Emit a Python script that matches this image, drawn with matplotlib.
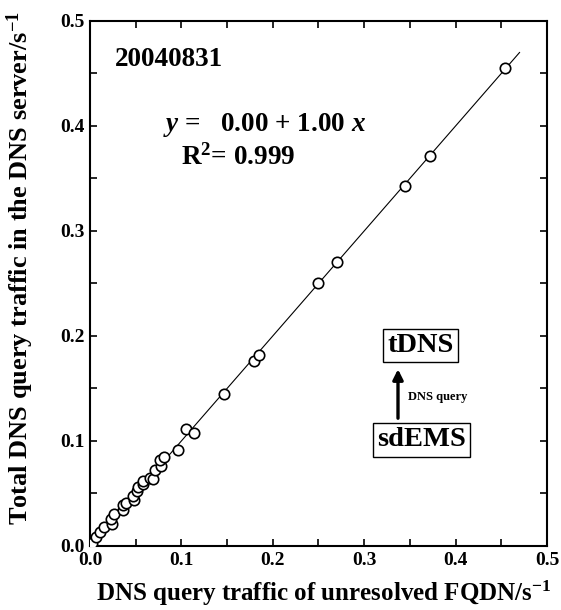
import numpy as np
import matplotlib
matplotlib.use("Agg")
import matplotlib.pyplot as plt
from matplotlib.ticker import MultipleLocator

plt.rcParams['font.family'] = ['Liberation Serif', 'DejaVu Serif']
plt.rcParams['font.weight'] = 'bold'
plt.rcParams['mathtext.fontset'] = 'custom'
plt.rcParams['mathtext.rm'] = 'Liberation Serif:bold'
plt.rcParams['mathtext.it'] = 'Liberation Serif:bold:italic'

# data (unresolved FQDN traffic vs total DNS traffic)
unresolved = [0.002, 0.007, 0.011, 0.015, 0.024, 0.023, 0.026, 0.036, 0.036,
              0.039, 0.048, 0.047, 0.051, 0.052, 0.058, 0.058, 0.066, 0.069,
              0.071, 0.078, 0.077, 0.081, 0.096, 0.105, 0.114, 0.147, 0.179,
              0.185, 0.250, 0.270, 0.345, 0.372, 0.454]
total = [0.003, 0.009, 0.013, 0.018, 0.021, 0.026, 0.030, 0.034, 0.039,
         0.041, 0.044, 0.048, 0.052, 0.056, 0.059, 0.062, 0.065, 0.064,
         0.072, 0.076, 0.082, 0.085, 0.091, 0.111, 0.108, 0.145, 0.176,
         0.182, 0.250, 0.270, 0.343, 0.371, 0.455]
fit_x = [0.0, 0.47]
intercept, slope = 0.00, 1.00
ticks = [0.0, 0.1, 0.2, 0.3, 0.4, 0.5]

fig = plt.figure(figsize=(5.61, 6.10), dpi=100)
ax = fig.add_axes([0.1604, 0.105, 0.8146, 0.8606])

fx = np.array(fit_x)
ax.plot(fx, intercept + slope * fx, color='black', lw=0.8, zorder=2)
ax.plot(unresolved, total, 'o', ms=7.5, mfc='white', mec='black', mew=1.2, zorder=3)

ax.set_xlim(0, 0.5)
ax.set_ylim(0, 0.5)
ax.set_xticks(ticks)
ax.set_yticks(ticks)
ax.xaxis.set_minor_locator(MultipleLocator(0.05))
ax.yaxis.set_minor_locator(MultipleLocator(0.05))
ax.tick_params(which='both', direction='in', top=True, right=True,
               length=5, width=1.2, labelsize=14, pad=4)
for s in ax.spines.values():
    s.set_linewidth(1.5)
ax.set_xticklabels([f'{t:.1f}' for t in ticks], fontweight='bold')
ax.set_yticklabels([f'{t:.1f}' for t in ticks], fontweight='bold')

ax.set_xlabel('DNS query traffic of unresolved FQDN/s$^{-1}$',
              fontsize=18, fontweight='bold')
ax.set_ylabel('Total DNS query traffic in the DNS server/s$^{-1}$',
              fontsize=19, fontweight='bold')
ax.xaxis.set_label_coords(0.512, -0.062)
ax.yaxis.set_label_coords(-0.118, 0.53)

ax.text(0.055, 0.926, '20040831', transform=ax.transAxes, fontsize=19.5,
        fontweight='bold', va='center', ha='left')
ax.text(0.16, 0.802, r'$y$ =   0.00 + 1.00 $x$', transform=ax.transAxes,
        fontsize=19.5, fontweight='bold', va='center', ha='left')
ax.text(0.20, 0.741, r'R$^{2}$= 0.999', transform=ax.transAxes,
        fontsize=19.5, fontweight='bold', va='center', ha='left')

box = dict(boxstyle='square,pad=0.15', fc='white', ec='black', lw=1.0)
ax.text(0.724, 0.382, 'tDNS', transform=ax.transAxes, fontsize=20.5,
        fontweight='bold', va='center', ha='center', bbox=box)
ax.text(0.726, 0.202, 'sdEMS', transform=ax.transAxes, fontsize=20.5,
        fontweight='bold', va='center', ha='center', bbox=box)
ax.annotate('', xy=(0.674, 0.342), xytext=(0.674, 0.238),
            xycoords='axes fraction', textcoords='axes fraction',
            arrowprops=dict(arrowstyle='-|>,head_width=0.3,head_length=0.6',
                            color='black', lw=2.4))
ax.text(0.696, 0.284, 'DNS query', transform=ax.transAxes, fontsize=9,
        fontweight='bold', va='center', ha='left')

fig.savefig('out.png', dpi=100)
